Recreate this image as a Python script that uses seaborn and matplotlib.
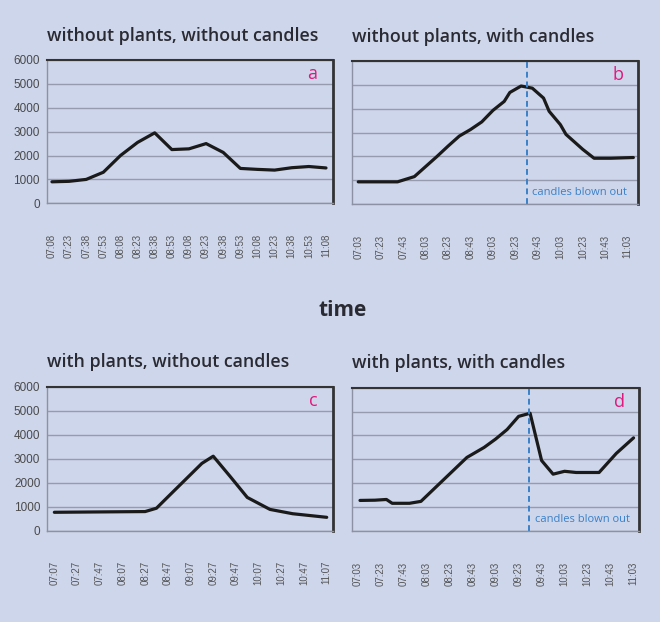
# -------------------------------
# CO2 in a room: plants / candles (4 panels)
# -------------------------------

import matplotlib
matplotlib.use("Agg")
import matplotlib.pyplot as plt
import seaborn as sns
import numpy as np
import pandas as pd

# -------------------------------
# Data
# -------------------------------
a_times = ["07:08", "07:23", "07:38", "07:53", "08:08", "08:23", "08:38", "08:53", "09:08",
           "09:23", "09:38", "09:53", "10:08", "10:23", "10:38", "10:53", "11:08"]
a_co2 = [900, 920, 1000, 1300, 2000, 2550, 2950, 2250, 2280,
         2500, 2130, 1460, 1420, 1390, 1490, 1540, 1480]
a_labels = a_times

b_times = ["07:03", "07:38", "07:53", "08:03", "08:13", "08:23", "08:33", "08:43", "08:53",
           "09:03", "09:13", "09:18", "09:28", "09:38", "09:48", "09:53", "10:03", "10:08",
           "10:13", "10:23", "10:33", "10:48", "11:08"]
b_co2 = [930, 930, 1150, 1570, 1990, 2430, 2850, 3125, 3445,
         3930, 4305, 4680, 4950, 4860, 4445, 3890, 3330, 2920,
         2710, 2290, 1920, 1920, 1950]
b_labels = ["07:03", "07:23", "07:43", "08:03", "08:23", "08:43", "09:03",
            "09:23", "09:43", "10:03", "10:23", "10:43", "11:03"]
b_out = "09:33"

c_times = ["07:07", "08:27", "08:37", "08:47", "09:02", "09:17", "09:27",
           "09:42", "09:57", "10:17", "10:37", "11:07"]
c_co2 = [760, 790, 930, 1400, 2100, 2800, 3100, 2250, 1380, 880, 700, 550]
c_labels = ["07:07", "07:27", "07:47", "08:07", "08:27", "08:47", "09:07",
            "09:27", "09:47", "10:07", "10:27", "10:47", "11:07"]

d_times = ["07:05", "07:18", "07:28", "07:33", "07:48", "07:58", "08:08", "08:38", "08:53",
           "09:03", "09:13", "09:23", "09:33", "09:43", "09:53", "10:03", "10:13",
           "10:33", "10:48", "11:03"]
d_co2 = [1280, 1290, 1320, 1160, 1160, 1240, 1700, 3080, 3500,
         3850, 4250, 4800, 4930, 2950, 2380, 2500, 2450,
         2450, 3250, 3900]
d_labels = b_labels
d_out = "09:32"

titles = ["without plants, without candles", "without plants, with candles",
          "with plants, without candles", "with plants, with candles"]
letters = ["a", "b", "c", "d"]
y_ticks = [0, 1000, 2000, 3000, 4000, 5000, 6000]

# -------------------------------
# Style
# -------------------------------
BG = "#ced6eb"
sns.set_style("white")
plt.rcParams["font.family"] = ["Liberation Sans", "DejaVu Sans"]


def minutes(t):
    h, m = t.split(":")
    return int(h) * 60 + int(m)


def draw_panel(ax, times, co2, labels, xlim, title, letter, blown=None, show_y=True):
    t0 = minutes(labels[0])
    df = pd.DataFrame({"t": [minutes(t) - t0 for t in times], "co2": co2})
    sns.lineplot(data=df, x="t", y="co2", ax=ax, color="#1a1a1a", lw=2.3)

    ax.set_facecolor(BG)
    ax.set_xlim(*xlim)
    ax.set_ylim(0, 6000)
    ax.set_yticks(y_ticks)
    ax.yaxis.grid(True, color="#969cae", lw=1)
    ax.set_axisbelow(True)

    # labels centered on their times, tick marks evenly along the axis
    ax.set_xticks([minutes(l) - t0 for l in labels])
    ax.set_xticklabels(labels, rotation=90, fontsize=7, color="#555555")
    ax.set_xticks(np.linspace(xlim[0], xlim[1], 18), minor=True)
    ax.tick_params(axis="x", which="major", length=0, pad=22)
    ax.tick_params(axis="x", which="minor", length=4, width=1, color="#8c92a3")
    ax.tick_params(axis="y", length=3, width=1, color="#8c92a3",
                   labelsize=8.5, labelcolor="#4a4a4a", pad=2)
    if not show_y:
        ax.set_yticklabels([])
    ax.set_xlabel("")
    ax.set_ylabel("")

    for side in ["left", "bottom"]:
        ax.spines[side].set_color("#8c92a3")
        ax.spines[side].set_linewidth(1)
    ax.spines["top"].set_color("#333333")
    ax.spines["top"].set_linewidth(1.5)
    ax.spines["right"].set_color("#333333")
    ax.spines["right"].set_linewidth(2)

    # title sits ~25 px above the top spine
    ax.annotate(title, xy=(0.0, 1.0), xycoords="axes fraction",
                xytext=(0, 17.5), textcoords="offset points", ha="left", va="center",
                fontsize=12.8, fontweight="semibold", color="#2a2a32", family="Open Sans")
    ax.text(0.93, 0.9, letter, transform=ax.transAxes, ha="center", va="center",
            fontsize=13, color="#e0187c", family="Open Sans")

    if blown is not None:
        xb = minutes(blown) - t0
        ax.axvline(xb, color="#3a80c8", lw=1.4, ls=(0, (3, 2)))
        ax.text(xb + 5, 0.08, "candles blown out", transform=ax.get_xaxis_transform(),
                ha="left", va="center", fontsize=8, color="#3a80c8", family="Open Sans")


# -------------------------------
# Figure
# -------------------------------
fig = plt.figure(figsize=(6.6, 6.22), dpi=100, facecolor=BG)
W, H = 660, 622


def place(left, right, top, bottom):
    return fig.add_axes([left / W, 1 - bottom / H, (right - left) / W, (bottom - top) / H])


ax_a = place(46.7, 332.5, 60, 203.3)
ax_b = place(352.3, 638.3, 61, 204)
ax_c = place(47.3, 333.3, 386.7, 530.5)
ax_d = place(352.3, 639.3, 387.7, 531)

draw_panel(ax_a, a_times, a_co2, a_labels, (-4.6, 245.7), titles[0], letters[0])
draw_panel(ax_b, b_times, b_co2, b_labels, (-5.3, 249.4), titles[1], letters[1],
           blown=b_out, show_y=False)
draw_panel(ax_c, c_times, c_co2, c_labels, (-6.2, 245.8), titles[2], letters[2])
draw_panel(ax_d, d_times, d_co2, d_labels, (-4.7, 245.0), titles[3], letters[3],
           blown=d_out, show_y=False)

fig.text(343 / W, 1 - 310 / H, "time", ha="center", va="center",
         fontsize=15, fontweight="bold", color="#2a2a32", family="Open Sans")

fig.savefig("out.png", dpi=100, facecolor=BG)
